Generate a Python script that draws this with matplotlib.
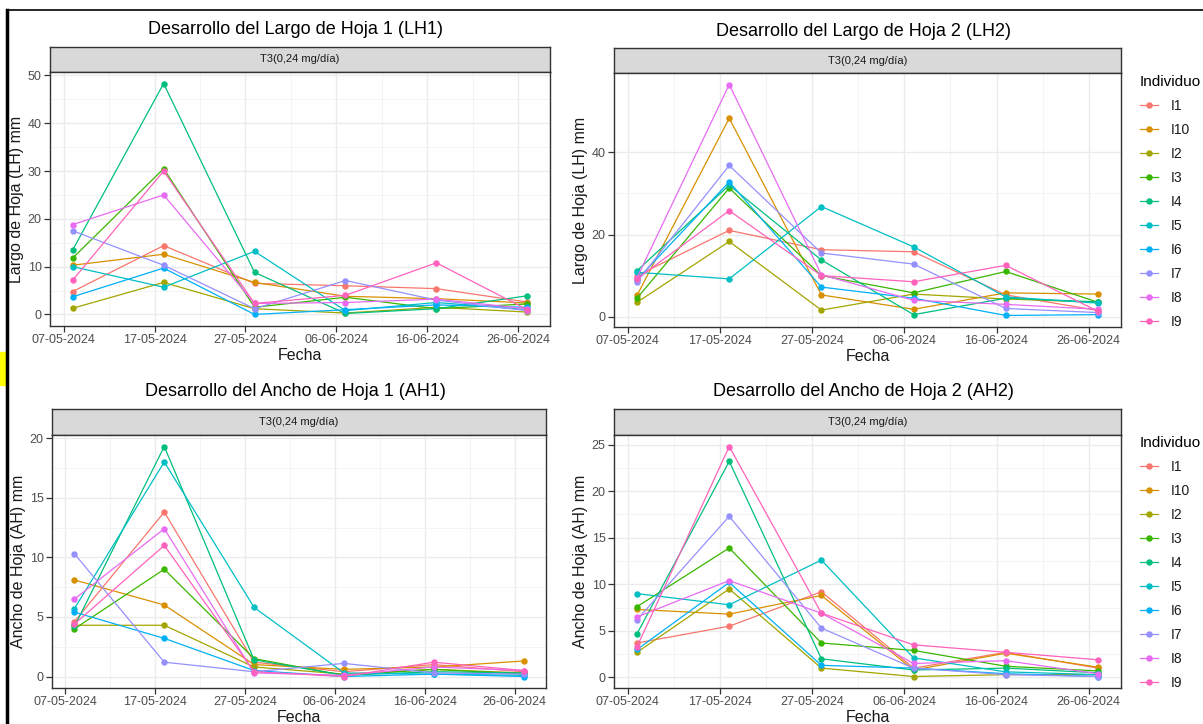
import numpy as np
import matplotlib.pyplot as plt
import matplotlib.dates as mdates
from matplotlib.lines import Line2D
from matplotlib.patches import Rectangle

plt.rcParams['font.family'] = ['Liberation Sans', 'DejaVu Sans']

# Data
fechas = np.array(['2024-05-08', '2024-05-18', '2024-05-28',
                   '2024-06-07', '2024-06-17', '2024-06-27'], dtype='datetime64[D]')
individuos = ['I1', 'I10', 'I2', 'I3', 'I4', 'I5', 'I6', 'I7', 'I8', 'I9']
colores = ['#F8766D', '#D89000', '#A3A500', '#39B600', '#00BF7D',
           '#00BFC4', '#00B0F6', '#9590FF', '#E76BF3', '#FF62BC']

# rows follow the order of `individuos`
lh1 = [[4.8, 14.4, 6.5, 6.0, 5.4, 2.6],
       [10.3, 12.6, 6.7, 3.8, 3.3, 2.4],
       [1.3, 6.7, 1.2, 0.3, 1.5, 0.5],
       [11.8, 30.5, 1.5, 3.6, 1.2, 2.2],
       [13.5, 48.3, 8.8, 0.2, 1.2, 3.9],
       [10.0, 5.7, 13.2, 0.8, 2.5, 1.0],
       [3.7, 9.7, 0.0, 1.0, 2.0, 1.5],
       [17.5, 10.3, 1.2, 7.1, 3.0, 0.8],
       [18.8, 25.0, 2.3, 2.5, 3.2, 1.2],
       [7.2, 30.0, 2.3, 4.0, 10.8, 1.0]]

lh2 = [[10.0, 21.0, 16.3, 15.8, 5.3, 1.5],
       [5.2, 48.3, 5.3, 1.8, 5.8, 5.5],
       [3.5, 18.3, 1.6, 5.5, 4.3, 3.5],
       [4.5, 31.3, 10.0, 5.8, 11.0, 3.5],
       [11.2, 32.0, 13.8, 0.5, 4.5, 3.6],
       [10.8, 9.2, 26.8, 17.0, 4.8, 3.3],
       [9.0, 32.8, 7.2, 4.5, 0.3, 0.5],
       [8.5, 36.8, 15.5, 12.8, 2.0, 1.0],
       [9.5, 56.5, 10.2, 4.0, 3.0, 1.8],
       [9.2, 25.8, 10.0, 8.5, 12.5, 1.3]]

ah1 = [[4.6, 13.8, 1.2, 0.4, 1.0, 0.4],
       [8.1, 6.0, 1.0, 0.6, 0.8, 1.3],
       [4.3, 4.3, 0.8, 0.2, 0.6, 0.3],
       [4.0, 9.0, 1.5, 0.1, 0.6, 0.2],
       [4.2, 19.3, 1.4, 0.1, 0.4, 0.3],
       [5.7, 18.0, 5.8, 0.3, 0.2, 0.1],
       [5.4, 3.2, 0.5, 0.0, 0.2, 0.0],
       [10.3, 1.2, 0.4, 1.1, 0.3, 0.2],
       [6.5, 12.4, 0.3, 0.1, 0.8, 0.5],
       [4.4, 11.0, 0.4, 0.0, 1.2, 0.5]]

ah2 = [[3.7, 5.5, 9.2, 1.0, 2.7, 1.0],
       [7.3, 6.8, 8.8, 0.8, 2.6, 1.1],
       [2.7, 9.5, 1.0, 0.1, 0.3, 0.3],
       [7.6, 13.9, 3.7, 2.9, 1.2, 0.7],
       [4.7, 23.2, 2.0, 0.8, 1.0, 0.5],
       [9.0, 7.8, 12.6, 2.1, 0.6, 0.3],
       [3.0, 10.2, 1.3, 1.0, 0.4, 0.1],
       [6.2, 17.3, 5.3, 1.0, 0.3, 0.1],
       [6.5, 10.4, 6.9, 1.5, 1.8, 0.4],
       [3.3, 24.8, 6.9, 3.5, 2.7, 1.9]]

W, H = 1203, 724
fig = plt.figure(figsize=(W / 100, H / 100), dpi=100)


def rect(x0, y0, x1, y1):
    return [x0 / W, 1 - y1 / H, (x1 - x0) / W, (y1 - y0) / H]


x_ticks = np.arange(np.datetime64('2024-05-07'), np.datetime64('2024-06-28'), 10)
x_minor = x_ticks[:-1] + 5


def panel(box, strip_top, values, ylabel, yticks, title, legend_top=None):
    x0, y0, x1, y1 = box
    # facet strip
    sax = fig.add_axes(rect(x0, strip_top, x1, y0))
    sax.set_facecolor('#D9D9D9')
    sax.set_xticks([])
    sax.set_yticks([])
    for s in sax.spines.values():
        s.set_color('#333333')
        s.set_linewidth(1.0)
    sax.text(0.5, 0.5, 'T3(0,24 mg/día)', ha='center', va='center',
             fontsize=8, color='#1A1A1A', transform=sax.transAxes)

    ax = fig.add_axes(rect(x0, y0, x1, y1))
    lines = []
    for vals, col, name in zip(values, colores, individuos):
        ln, = ax.plot(fechas, vals, color=col, lw=0.9, marker='o', ms=3.6,
                      label=name, zorder=3)
        lines.append(ln)

    vmin = min(min(v) for v in values)
    vmax = max(max(v) for v in values)
    pad = 0.05 * (vmax - vmin)
    ax.set_ylim(vmin - pad, vmax + pad)
    d0 = mdates.date2num(fechas[0])
    d1 = mdates.date2num(fechas[-1])
    xpad = 0.05 * (d1 - d0)
    ax.set_xlim(d0 - xpad, d1 + xpad)

    ax.set_xticks(x_ticks)
    ax.set_xticks(x_minor, minor=True)
    ax.xaxis.set_major_formatter(mdates.DateFormatter('%d-%m-%Y'))
    ax.set_yticks(yticks)
    ax.set_yticks([(a + b) / 2 for a, b in zip(yticks[:-1], yticks[1:])], minor=True)
    ax.grid(True, which='major', color='#EBEBEB', lw=1.0, zorder=0)
    ax.grid(True, which='minor', color='#F2F2F2', lw=0.6, zorder=0)
    ax.set_axisbelow(True)
    ax.tick_params(which='major', length=4, width=0.9, color='#333333',
                   labelsize=9, labelcolor='#4D4D4D', pad=2)
    ax.tick_params(which='minor', length=0)
    for s in ax.spines.values():
        s.set_color('#333333')
        s.set_linewidth(1.0)
    ax.set_xlabel('Fecha', fontsize=11.5, color='#1A1A1A', labelpad=1)
    ax.set_ylabel(ylabel, fontsize=11.5, color='#1A1A1A', labelpad=3)

    cx = (x0 + x1) / 2 - 4
    fig.text(cx / W, 1 - (strip_top - 17) / H, title, ha='center', va='center',
             fontsize=13, color='black')

    if legend_top is not None:
        leg = ax.legend(lines, individuos, loc='upper left',
                        bbox_to_anchor=(1140 / W, 1 - legend_top / H),
                        bbox_transform=fig.transFigure, title='Individuo',
                        frameon=False, alignment='left', fontsize=10,
                        title_fontsize=11, handlelength=1.3, handletextpad=0.9,
                        labelspacing=0.72, borderaxespad=0, borderpad=0)
        for t in leg.get_texts():
            t.set_color('#1A1A1A')
    return ax


panel((50, 72, 550, 326), 47, lh1, 'Largo de Hoja (LH) mm',
      [0, 10, 20, 30, 40, 50], 'Desarrollo del Largo de Hoja 1 (LH1)')
panel((614, 73, 1121, 327), 48, lh2, 'Largo de Hoja (LH) mm',
      [0, 20, 40], 'Desarrollo del Largo de Hoja 2 (LH2)', legend_top=75)
panel((52, 435, 546, 688), 409, ah1, 'Ancho de Hoja (AH) mm',
      [0, 5, 10, 15, 20], 'Desarrollo del Ancho de Hoja 1 (AH1)')
panel((614, 435, 1121, 688), 409, ah2, 'Ancho de Hoja (AH) mm',
      [0, 5, 10, 15, 20, 25], 'Desarrollo del Ancho de Hoja 2 (AH2)', legend_top=436)

# screenshot frame
fig.add_artist(Line2D([7 / W, 7 / W], [0, 1 - 10 / H], color='black', lw=2.5,
                      transform=fig.transFigure))
fig.add_artist(Line2D([7 / W, 1], [1 - 10 / H, 1 - 10 / H], color='black', lw=1.2,
                      transform=fig.transFigure))
fig.add_artist(Rectangle((0, 1 - 385 / H), 6 / W, 33 / H, color='#FFFF00',
                         transform=fig.transFigure))

fig.savefig('out.png', dpi=100)
